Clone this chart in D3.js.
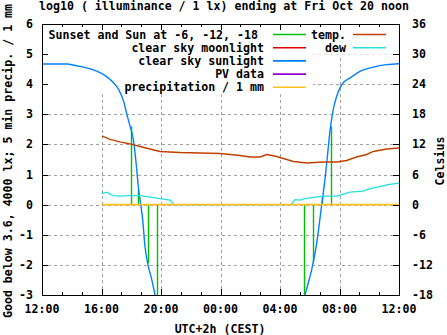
<!DOCTYPE html>
<html><head><meta charset="utf-8">
<script src="https://cdn.jsdelivr.net/npm/d3@7"></script>
<style>
body{margin:0;background:#fff}
svg{display:block}
text{font-family:"DejaVu Sans Mono",monospace;font-weight:bold;font-size:11.6px;fill:#000}
</style></head><body><svg id="c" width="447" height="335"></svg>
<script>
const title = "log10 ( illuminance / 1 lx) ending at Fri Oct 20 noon";
const yLabel = "Good below 3.6, 4000 lx; 5 min precip. / 1 mm";
const y2Label = "Celsius";
const xLabel = "UTC+2h (CEST)";
const xTickHours = [0, 4, 8, 12, 16, 20, 24];
const xTickLabels = ["12:00", "16:00", "20:00", "00:00", "04:00", "08:00", "12:00"];
const yTicks = [-3, -2, -1, 0, 1, 2, 3, 4, 5, 6];
const y2Ticks = [-18, -12, -6, 0, 6, 12, 18, 24, 30, 36];

const legendNames = ["Sunset and Sun at -6, -12, -18", "clear sky moonlight", "clear sky sunlight", "PV data", "precipitation / 1 mm", "temp.", "dew"];
const legendColors = ["#00c000", "#e00000", "#0080ff", "#9400d3", "#ffc020", "#c04000", "#20e0e0"];

// hours since Thu 12:00
const sunHours = [0, 1.68, 2.24, 3.36, 4.03, 4.71, 5.16, 5.49, 5.71, 5.87, 6.14, 6.37, 6.47, 6.64, 6.77, 6.92, 7.15, 7.38, 7.60, 7.90, 12, 17.40, 17.68, 17.90, 18.13, 18.31, 18.47, 18.62, 18.76, 18.91, 19.07, 19.21, 19.36, 19.58, 19.81, 20.15, 20.71, 21.38, 22.27, 23.17, 24];
const sunValues = [4.67, 4.67, 4.62, 4.49, 4.35, 4.10, 3.82, 3.43, 2.99, 2.70, 2.16, 1.16, 0.61, 0, -0.5, -1.38, -2.05, -2.49, -3, -3.6, -6, -3.6, -3, -2.6, -2.16, -1.72, -1.27, -0.72, -0.17, 0.39, 1.05, 1.72, 2.45, 3.16, 3.6, 3.99, 4.21, 4.43, 4.57, 4.65, 4.68];

const eventHours = [5.96, 6.47, 7.15, 7.75, 17.63, 18.24, 18.80, 19.41];
const eventValues = [2.6, 0.5, -1.94, -3.5, -3.5, -1.92, 0.28, 2.6];

const tempHours = [4.03, 4.57, 5.24, 5.92, 6.59, 7.26, 7.93, 8.61, 9.28, 10.62, 11.97, 13.31, 13.98, 14.66, 15.11, 15.78, 16.22, 16.9, 17.8, 18.91, 19.81, 20.48, 21.15, 21.83, 22.27, 23.17, 24];
const tempValues = [13.7, 13.0, 12.5, 12.1, 11.6, 11.1, 10.6, 10.5, 10.4, 10.3, 10.2, 9.8, 9.5, 9.5, 10.0, 9.6, 9.2, 8.6, 8.3, 8.5, 8.5, 8.8, 9.5, 10.0, 10.6, 11.1, 11.3];

const dewHours = [4.03, 4.35, 4.79, 5.24, 5.92, 6.59, 7.26, 7.93, 8.61, 8.87, 16.74, 17.01, 17.35, 17.68, 18.35, 19.03, 19.83, 20.71, 21.58, 22.05, 22.72, 23.26, 24];
const dewValues = [2.2, 2.5, 1.8, 1.7, 1.8, 1.8, 1.5, 1.2, 0.9, 0, 0, 1.0, 0.9, 1.2, 1.5, 1.7, 1.7, 2.5, 2.7, 3.2, 3.6, 4.0, 4.3];

const precipHours = [4, 8, 12, 16, 20, 24];
const precipValues = [0, 0, 0, 0, 0, 0];

const L = 42, R = 399, T = 24, B = 295;
const svg = d3.select("#c");
const x = d3.scaleLinear().domain([0, 24]).range([L, R]);
const y = d3.scaleLinear().domain([-3, 6]).range([B, T]);
const y2 = d3.scaleLinear().domain([-18, 36]).range([B, T]);

svg.append("rect").attr("width", 447).attr("height", 335).attr("fill", "#fff");
svg.append("clipPath").attr("id", "pc").append("rect")
  .attr("x", L).attr("y", T).attr("width", R - L).attr("height", B - T);

// grid
const g = svg.append("g").attr("stroke", "#a0a0a0").attr("stroke-dasharray", "3,3").attr("shape-rendering", "crispEdges");
yTicks.filter(v => v > -3 && v < 6).forEach(v => {
  g.append("line").attr("x1", L).attr("x2", R).attr("y1", Math.round(y(v)) + 0.5).attr("y2", Math.round(y(v)) + 0.5);
});
xTickHours.filter(h => h > 0 && h < 24).forEach(h => {
  g.append("line").attr("x1", Math.round(x(h)) + 0.5).attr("x2", Math.round(x(h)) + 0.5).attr("y1", B).attr("y2", T);
});

// key background
const rowY = i => 34.5 + i * 13.2;
svg.append("rect").attr("x", L + 1).attr("y", T + 1).attr("width", 312 - L).attr("height", rowY(4) + 6 - T).attr("fill", "#fff");
svg.append("rect").attr("x", 312).attr("y", T + 1).attr("width", R - 312 - 1).attr("height", rowY(1) + 6 - T).attr("fill", "#fff");

const plot = svg.append("g").attr("clip-path", "url(#pc)");

// events (impulses)
eventHours.forEach((h, i) => {
  plot.append("line").attr("x1", Math.round(x(h)) + 0.5).attr("x2", Math.round(x(h)) + 0.5)
    .attr("y1", y(0)).attr("y2", y(eventValues[i]))
    .attr("stroke", legendColors[0]).attr("stroke-width", 1.4);
});

const sunLine = d3.line().x(d => x(d[0])).y(d => y(d[1])).curve(d3.curveMonotoneX);
plot.append("path").attr("d", sunLine(sunHours.map((h, i) => [h, sunValues[i]])))
  .attr("fill", "none").attr("stroke", legendColors[2]).attr("stroke-width", 1.4);

const tLine = d3.line().x(d => x(d[0])).y(d => y2(d[1]));
plot.append("path").attr("d", tLine(tempHours.map((h, i) => [h, tempValues[i]])))
  .attr("fill", "none").attr("stroke", legendColors[5]).attr("stroke-width", 1.4);
plot.append("path").attr("d", tLine(dewHours.map((h, i) => [h, dewValues[i]])))
  .attr("fill", "none").attr("stroke", legendColors[6]).attr("stroke-width", 1.3);

const pLine = d3.line().x(d => x(d[0])).y(d => y(d[1]));
plot.append("path").attr("d", pLine(precipHours.map((h, i) => [h, precipValues[i]])))
  .attr("fill", "none").attr("stroke", legendColors[4]).attr("stroke-width", 1.8);

// frame
svg.append("rect").attr("x", L + 0.5).attr("y", T + 0.5).attr("width", R - L).attr("height", B - T)
  .attr("fill", "none").attr("stroke", "#000").attr("shape-rendering", "crispEdges");

// ticks
const tk = svg.append("g").attr("stroke", "#000").attr("shape-rendering", "crispEdges");
yTicks.forEach(v => {
  const yy = Math.round(y(v)) + 0.5;
  tk.append("line").attr("x1", L).attr("x2", L + 6).attr("y1", yy).attr("y2", yy);
  tk.append("line").attr("x1", R - 6).attr("x2", R).attr("y1", yy).attr("y2", yy);
});
const minor = [];
for (let k = 0; k <= 18; k++) minor.push(k * 4 / 3);
minor.forEach(h => {
  const xx = Math.round(x(h)) + 0.5;
  const major = xTickHours.some(m => Math.abs(m - h) < 1e-6);
  const len = major ? 6 : 3;
  tk.append("line").attr("x1", xx).attr("x2", xx).attr("y1", B).attr("y2", B - len);
  tk.append("line").attr("x1", xx).attr("x2", xx).attr("y1", T).attr("y2", T + len);
});

// tick labels
yTicks.forEach(v => {
  svg.append("text").attr("x", 33).attr("y", y(v)).attr("text-anchor", "end").attr("dominant-baseline", "central").text(v);
});
y2Ticks.forEach(v => {
  svg.append("text").attr("x", 412).attr("y", y2(v)).attr("text-anchor", "start").attr("dominant-baseline", "central").text(v);
});
xTickHours.forEach((h, i) => {
  svg.append("text").attr("x", x(h)).attr("y", 308.5).attr("text-anchor", "middle").attr("dominant-baseline", "central").text(xTickLabels[i]);
});

svg.append("text").attr("x", 224).attr("y", 6).attr("text-anchor", "middle").attr("dominant-baseline", "central").text(title);
svg.append("text").attr("x", 220).attr("y", 328.5).attr("text-anchor", "middle").attr("dominant-baseline", "central").text(xLabel);
svg.append("text").attr("transform", "translate(8,161) rotate(-90)").attr("text-anchor", "middle").attr("dominant-baseline", "central").text(yLabel);
svg.append("text").attr("transform", "translate(440,161) rotate(-90)").attr("text-anchor", "middle").attr("dominant-baseline", "central").text(y2Label);

// legend
legendNames.forEach((name, i) => {
  const col = i < 5 ? 0 : 1;
  const row = i < 5 ? i : i - 5;
  const yy = rowY(row);
  const textEnd = col === 0 ? (i === 0 ? 258 : 264) : 346;
  const lx1 = col === 0 ? 273 : 353;
  svg.append("text").attr("x", textEnd).attr("y", yy).attr("text-anchor", "end").attr("dominant-baseline", "central").text(name);
  svg.append("line").attr("x1", lx1).attr("x2", lx1 + 33).attr("y1", yy).attr("y2", yy)
    .attr("stroke", legendColors[i]).attr("stroke-width", 1.6);
});
</script></body></html>
